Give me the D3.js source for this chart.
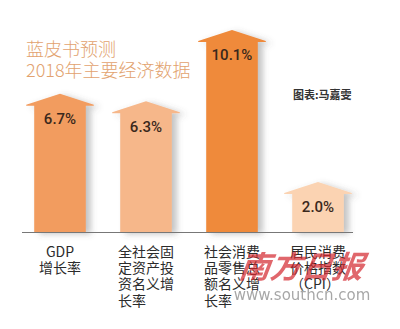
<!DOCTYPE html>
<html lang="zh">
<head>
<meta charset="utf-8">
<title>蓝皮书预测 2018年主要经济数据</title>
<style>
  html, body { margin: 0; padding: 0; background: #fff; overflow: hidden; }
  svg { display: block; }
</style>
</head>
<body>
<svg width="400" height="329"></svg>
<script src="https://cdn.jsdelivr.net/npm/d3@7/dist/d3.min.js"></script>
<script>
// indicator names, one array entry per bar (split into the printed lines)
var categories = ["GDP增长率", "全社会固定资产投资名义增长率", "社会消费品零售总额名义增长率", "居民消费价格指数（CPI）"];
var labelLines = [
  ["GDP", "增长率"],
  ["全社会固", "定资产投", "资名义增", "长率"],
  ["社会消费", "品零售总", "额名义增", "长率"],
  ["居民消费", "价格指数", "（CPI）"]
];
var values = [6.7, 6.3, 10.1, 2.0];
var barColors = ["#f29c5f", "#f6b78a", "#ef8a3a", "#fbd3b2"];

var svg = d3.select("svg");
var cjk = "'Noto Sans CJK SC', 'Noto Sans', sans-serif";

var baseY = 232;

var x = d3.scaleBand()
  .domain(categories)
  .range([17, 361])
  .paddingInner(0.4)
  .paddingOuter(0.2);

// bars start a little below zero, so the scale floor sits under the baseline
var y = d3.scaleLinear()
  .domain([-0.67, 10.1])
  .range([baseY, 30]);

var defs = svg.append("defs");
var shadow = defs.append("filter").attr("id", "shadow")
  .attr("x", "-20%").attr("y", "-10%").attr("width", "150%").attr("height", "130%");
shadow.append("feDropShadow")
  .attr("dx", 5).attr("dy", 2).attr("stdDeviation", 3)
  .attr("flood-color", "#555").attr("flood-opacity", 0.35);

// title
var title = svg.append("text")
  .attr("x", 26)
  .attr("font-family", cjk)
  .attr("font-weight", 300)
  .attr("font-size", 18)
  .attr("fill", "#e2a26e");
title.append("tspan").attr("x", 26).attr("y", 56).text("蓝皮书预测");
title.append("tspan").attr("x", 26).attr("y", 77).text("2018年主要经济数据");

svg.append("text")
  .attr("x", 293).attr("y", 99)
  .attr("font-family", cjk)
  .attr("font-weight", 700)
  .attr("font-size", 11)
  .attr("fill", "#333")
  .text("图表:马嘉雯");

// arrow-shaped bars: body plus a roof-like head
var roof = 11, eave = 8;
function arrowPath(i) {
  var x0 = x(categories[i]), x1 = x0 + x.bandwidth(), cx = x0 + x.bandwidth() / 2;
  var top = y(values[i]), sh = top + roof;
  return "M" + x0 + "," + baseY +
    "L" + x0 + "," + (sh + 1) +
    "L" + (x0 - eave) + "," + (sh + 1) +
    "L" + (x0 - eave) + "," + sh +
    "L" + cx + "," + top +
    "L" + (x1 + eave) + "," + sh +
    "L" + (x1 + eave) + "," + (sh + 1) +
    "L" + x1 + "," + (sh + 1) +
    "L" + x1 + "," + baseY + "Z";
}

svg.append("g")
  .attr("filter", "url(#shadow)")
  .selectAll("path")
  .data(values)
  .join("path")
  .attr("d", function(d, i) { return arrowPath(i); })
  .attr("fill", function(d, i) { return barColors[i]; });

svg.append("g")
  .selectAll("text")
  .data(values)
  .join("text")
  .attr("x", function(d, i) { return x(categories[i]) + x.bandwidth() / 2; })
  .attr("y", function(d) { return y(d) + 25; })
  .attr("dy", "0.35em")
  .attr("text-anchor", "middle")
  .attr("font-family", "Roboto, 'Liberation Sans', sans-serif")
  .attr("font-weight", 500)
  .attr("font-size", 15)
  .attr("fill", "#3a281c")
  .text(function(d) { return d.toFixed(1) + "%"; });

// baseline
svg.append("line")
  .attr("x1", 22).attr("x2", 353)
  .attr("y1", baseY + 0.5).attr("y2", baseY + 0.5)
  .attr("stroke", "#777").attr("stroke-width", 1);

// category labels, lines left-aligned inside a block centred on the bar
labelLines.forEach(function(lines, i) {
  var cx = x(categories[i]) + x.bandwidth() / 2;
  var t = svg.append("text")
    .attr("font-family", cjk)
    .attr("font-size", 14)
    .attr("fill", "#2b2b2b");
  lines.forEach(function(s, j) {
    t.append("tspan").attr("y", 257 + j * 16.2).text(s);
  });
  var w = 0;
  t.selectAll("tspan").each(function() { w = Math.max(w, this.getComputedTextLength()); });
  if (i === 0) {
    t.selectAll("tspan").attr("x", cx).attr("text-anchor", "middle");
  } else {
    t.selectAll("tspan").attr("x", cx - w / 2);
  }
});

// newspaper mark
svg.append("text")
  .attr("x", 301).attr("y", 278)
  .attr("text-anchor", "middle")
  .attr("font-family", "'Noto Sans CJK SC', serif")
  .attr("font-weight", 700)
  .attr("font-style", "italic")
  .attr("font-size", 31)
  .attr("fill", "#d4272e")
  .attr("opacity", 0.7)
  .attr("transform", "skewX(-8) translate(38,0)")
  .text("南方日报");

svg.append("text")
  .attr("x", 302).attr("y", 300)
  .attr("text-anchor", "middle")
  .attr("font-family", "'DejaVu Sans', sans-serif")
  .attr("font-size", 15)
  .attr("fill", "#8a8a8a")
  .attr("opacity", 0.75)
  .text("www.southcn.com");
</script>
</body>
</html>
